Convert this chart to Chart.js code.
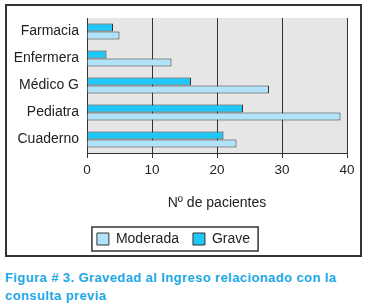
<!DOCTYPE html>
<html>
<head>
<meta charset="utf-8">
<script src="https://cdn.jsdelivr.net/npm/chart.js@4.4.1/dist/chart.umd.min.js"></script>
<style>
  body { margin: 0; background: #fff; }
  #wrap { position: absolute; left: 0; top: 0; width: 365px; height: 260px; }
  #caption {
    position: absolute; left: 5px; top: 269px; width: 340px;
    font-family: "Liberation Sans", Arial, sans-serif; font-weight: bold;
    font-size: 13px; line-height: 18px; letter-spacing: 0.4px; color: #1aa8e8;
  }
</style>
</head>
<body>
<div id="wrap"><canvas id="grafico" width="365" height="260"></canvas></div>
<div id="caption">Figura # 3. Gravedad al Ingreso relacionado con la consulta previa</div>
<script>
// datos
categorias = ['Farmacia', 'Enfermera', 'Médico G', 'Pediatra', 'Cuaderno'];
moderada = [5, 13, 28, 39, 23];
grave = [4, 3, 16, 24, 21];
ticksX = [0, 10, 20, 30, 40];

// fondo gris del area y marco exterior
fondoPlugin = {
    id: 'fondo',
    beforeDraw: function (chart) {
        let ctx = chart.ctx;
        let a = chart.chartArea;
        ctx.save();
        ctx.fillStyle = '#fff';
        ctx.fillRect(0, 0, chart.width, chart.height);
        ctx.fillStyle = '#e6e6e6';
        ctx.fillRect(a.left, a.top, a.right - a.left, a.bottom - a.top);
        ctx.restore();
    },
    afterDraw: function (chart) {
        let ctx = chart.ctx;
        ctx.save();
        ctx.strokeStyle = '#333';
        ctx.lineWidth = 2;
        ctx.strokeRect(6, 5, 355, 251);
        // recuadro de la leyenda
        let boxes = chart.legend.legendHitBoxes;
        if (boxes && boxes.length) {
            let first = boxes[0];
            let last = boxes[boxes.length - 1];
            let x0 = first.left - 5;
            let x1 = last.left + last.width + 8;
            ctx.lineWidth = 1.5;
            ctx.strokeRect(x0, first.top - 5, x1 - x0, first.height + 10);
        }
        ctx.restore();
    }
};

let ctx = document.getElementById('grafico');
myChart = new Chart(ctx, {
    type: 'bar',
    data: {
        labels: categorias,
        datasets: [{
            label: 'Grave',
            data: grave,
            backgroundColor: '#1ec8f8',
            borderColor: '#333',
            borderWidth: 1,
            categoryPercentage: 0.6,
            barPercentage: 1.0
        }, {
            label: 'Moderada',
            data: moderada,
            backgroundColor: '#b0e3f9',
            borderColor: '#333',
            borderWidth: 1,
            categoryPercentage: 0.6,
            barPercentage: 1.0
        }]
    },
    options: {
        indexAxis: 'y',
        responsive: false,
        animation: false,
        layout: { padding: { top: 18, right: 18, bottom: 4, left: 0 } },
        plugins: {
            tooltip: { enabled: false },
            legend: {
                display: true,
                position: 'bottom',
                reverse: true,
                labels: {
                    boxWidth: 12,
                    boxHeight: 12,
                    padding: 14,
                    color: '#222',
                    font: { family: 'Liberation Sans', size: 14 }
                }
            }
        },
        scales: {
            x: {
                min: 0,
                max: 40,
                afterBuildTicks: function (scale) {
                    scale.ticks = ticksX.map(v => ({ value: v }));
                },
                grid: { color: '#333', lineWidth: 1, tickLength: 5, drawTicks: true },
                border: { display: true, color: '#333', width: 1 },
                ticks: {
                    padding: 4,
                    color: '#222',
                    font: { family: 'Liberation Sans', size: 13.5 }
                },
                title: {
                    display: true,
                    text: 'Nº de pacientes',
                    color: '#222',
                    padding: { top: 13, bottom: 6 },
                    font: { family: 'Liberation Sans', size: 14 }
                }
            },
            y: {
                afterFit: function (scale) { scale.width = 87; },
                grid: { display: true, drawOnChartArea: false, drawTicks: false, color: 'transparent' },
                border: { display: true, color: '#333', width: 1 },
                ticks: {
                    padding: 8,
                    color: '#222',
                    font: { family: 'Liberation Sans', size: 14 }
                }
            }
        }
    },
    plugins: [fondoPlugin]
});
</script>
</body>
</html>
